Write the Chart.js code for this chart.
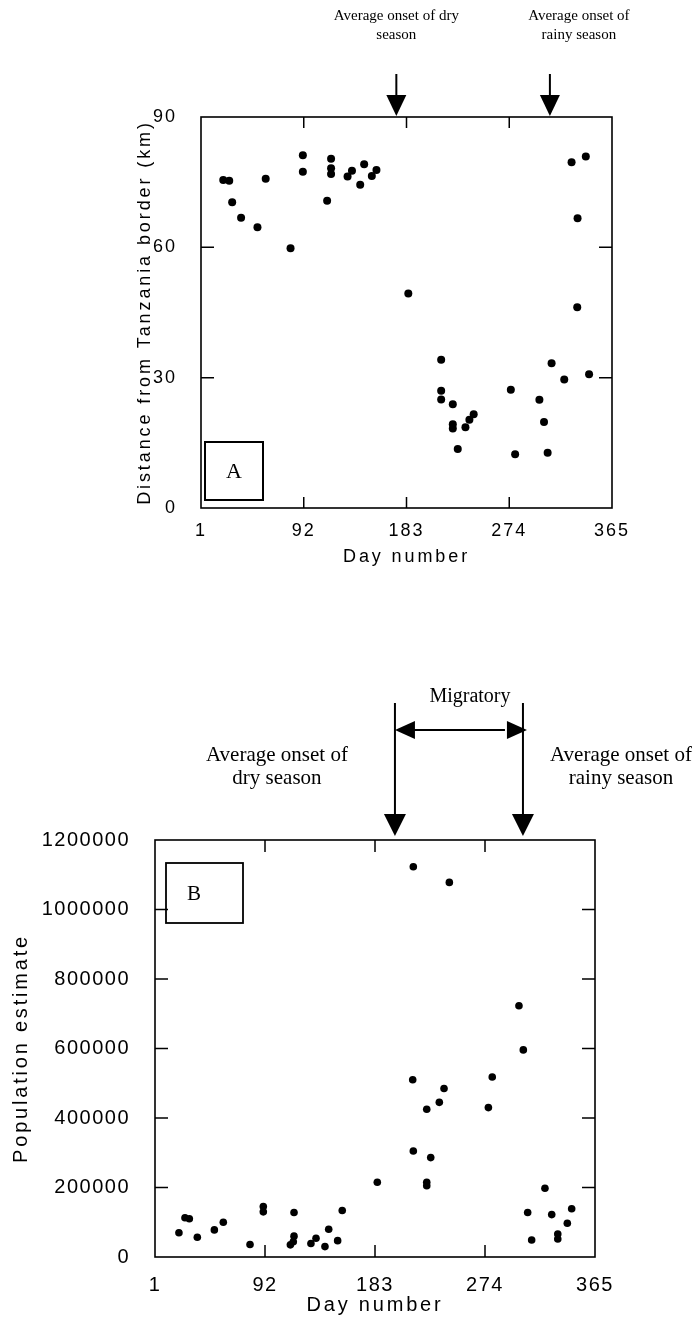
<!DOCTYPE html>
<html>
<head>
<meta charset="utf-8">
<script src="https://cdn.jsdelivr.net/npm/chart.js@4.4.1/dist/chart.umd.min.js"></script>
<style>
  html, body { margin: 0; padding: 0; background: #fff; }
  body { width: 696px; height: 1323px; position: relative; overflow: hidden; }
  .wrap { position: absolute; left: 0; width: 696px; }
</style>
</head>
<body>
<div class="wrap" style="top:0;height:600px"><canvas id="chartA"></canvas></div>
<div class="wrap" style="top:600px;height:723px"><canvas id="chartB"></canvas></div>
<script>
// ---------- data ----------
const dayTicks = [1, 92, 183, 274, 365];
const distanceTicks = [0, 30, 60, 90];
const populationTicks = [0, 200000, 400000, 600000, 800000, 1000000, 1200000];

const distanceDays = [20.7, 26, 28.6, 36.5, 51, 58.3, 80.3, 91.2, 91.2, 112.7, 116.2, 116.2, 116.2,
  130.8, 134.7, 142, 145.5, 152.3, 156.4, 184.6, 213.7, 213.7, 213.7, 224, 224, 224, 228.4, 235.2,
  238.7, 242.5, 275.4, 279.2, 300.7, 304.8, 308, 311.5, 322.7, 329.2, 334.5, 334.2, 341.8, 344.7];
const distanceKm = [75.5, 75.3, 70.4, 66.8, 64.6, 75.8, 59.8, 81.2, 77.4, 70.7, 80.4, 78.2, 76.9,
  76.3, 77.6, 74.4, 79.1, 76.4, 77.8, 49.4, 34.1, 27.0, 25.0, 23.9, 19.3, 18.3, 13.6, 18.6,
  20.3, 21.6, 27.2, 12.4, 24.9, 19.8, 12.7, 33.3, 29.6, 79.6, 66.7, 46.2, 80.9, 30.8];

const populationDays = [20.8, 25.8, 29.4, 36, 50.1, 57.5, 79.6, 90.6, 90.6, 116, 116, 113, 115.4,
  130, 134.2, 141.6, 144.7, 152.1, 155.9, 184.9, 214.7, 214.2, 214.7, 225.8, 225.8, 225.8, 229.1,
  236.2, 240.1, 244.5, 276.8, 280, 302.1, 305.7, 309.3, 312.6, 323.6, 329.2, 334.2, 334.2, 342.1, 345.7];
const populationCounts = [70000, 113000, 110000, 57000, 78000, 100000, 36000, 145000, 130000, 128000,
  60000, 35000, 44000, 39000, 54000, 30000, 80000, 47000, 134000, 215000, 1123000, 510000, 305000,
  425000, 215000, 205000, 286000, 445000, 485000, 1078000, 430000, 518000, 723000, 596000, 128000,
  49000, 198000, 122000, 66000, 52000, 97000, 139000];

const onsetDaysA = [174, 310];
const onsetDaysB = [199.5, 305.4];
const onsetLabelsA = [['Average onset of dry', 'season'], ['Average onset of', 'rainy season']];
const onsetLabelsB = [['Average onset of', 'dry season'], ['Average onset of', 'rainy season']];
const migratoryLabel = 'Migratory';
const panelLetters = ['A', 'B'];

// ---------- drawing helpers ----------
const SANS = '"Liberation Sans", Arial, Helvetica, sans-serif';
const SERIF = '"Liberation Serif", "Times New Roman", Times, serif';

function downArrow(ctx, x, yTop, yTip, headW, headH, lw) {
  ctx.lineWidth = lw;
  ctx.beginPath();
  ctx.moveTo(x, yTop);
  ctx.lineTo(x, yTip - headH + 2);
  ctx.stroke();
  ctx.beginPath();
  ctx.moveTo(x - headW / 2, yTip - headH);
  ctx.lineTo(x + headW / 2, yTip - headH);
  ctx.lineTo(x, yTip);
  ctx.closePath();
  ctx.fill();
}

function annotatePlugin(cfg) {
  return {
    id: 'annot',
    beforeDraw(chart) { chart.ctx.letterSpacing = cfg.titleSpacing; },
    beforeDatasetsDraw(chart) { chart.ctx.letterSpacing = cfg.tickSpacing; },
    afterDraw(chart) {
      const ctx = chart.ctx, a = chart.chartArea;
      const xs = chart.scales.x, ys = chart.scales.y;
      ctx.save();
      ctx.letterSpacing = '0px';
      ctx.strokeStyle = '#000';
      ctx.fillStyle = '#000';
      ctx.lineCap = 'butt';
      // frame
      ctx.lineWidth = cfg.frameWidth;
      ctx.strokeRect(a.left, a.top, a.right - a.left, a.bottom - a.top);
      // inward tick marks on all four sides
      ctx.lineWidth = 1.5;
      xs.ticks.forEach(t => {
        if (t.value <= xs.min || t.value >= xs.max) return;
        const px = xs.getPixelForValue(t.value);
        ctx.beginPath();
        ctx.moveTo(px, a.bottom); ctx.lineTo(px, a.bottom - cfg.tickLenX);
        ctx.moveTo(px, a.top); ctx.lineTo(px, a.top + cfg.tickLenX);
        ctx.stroke();
      });
      ys.ticks.forEach(t => {
        if (t.value <= ys.min || t.value >= ys.max) return;
        const py = ys.getPixelForValue(t.value);
        ctx.beginPath();
        ctx.moveTo(a.left, py); ctx.lineTo(a.left + cfg.tickLenY, py);
        ctx.moveTo(a.right, py); ctx.lineTo(a.right - cfg.tickLenY, py);
        ctx.stroke();
      });
      // onset arrows and their labels
      const ax = cfg.onsetDays.map(d => xs.getPixelForValue(d));
      ax.forEach(x => downArrow(ctx, x, a.top + cfg.arrowTop, a.top + cfg.arrowTip,
        cfg.headW, cfg.headH, cfg.shaftW));
      ctx.font = cfg.labelFont;
      ctx.textAlign = 'center';
      ctx.textBaseline = 'middle';
      cfg.labels.forEach((lines, i) => {
        lines.forEach((ln, j) => ctx.fillText(ln, ax[i] + cfg.labelDx[i], a.top + cfg.labelY[j]));
      });
      // migratory double arrow
      if (cfg.migratory) {
        const m = cfg.migratory;
        const y = a.top + m.y;
        ctx.lineWidth = 2;
        ctx.beginPath();
        ctx.moveTo(ax[0] + m.headL - 2, y); ctx.lineTo(ax[1] - m.headL + 2, y);
        ctx.stroke();
        ctx.beginPath();
        ctx.moveTo(ax[0], y); ctx.lineTo(ax[0] + m.headL, y - m.headH / 2); ctx.lineTo(ax[0] + m.headL, y + m.headH / 2);
        ctx.closePath(); ctx.fill();
        ctx.beginPath();
        ctx.moveTo(ax[1] + m.tipOver, y); ctx.lineTo(ax[1] + m.tipOver - m.headL, y - m.headH / 2);
        ctx.lineTo(ax[1] + m.tipOver - m.headL, y + m.headH / 2);
        ctx.closePath(); ctx.fill();
        ctx.font = m.font;
        ctx.fillText(m.text, (ax[0] + ax[1]) / 2 + m.textDx, a.top + m.textY);
      }
      // panel letter box
      const b = cfg.box;
      ctx.lineWidth = b.lw;
      const bx = a.left + b.dx, by = b.fromBottom ? a.bottom - b.dy - b.h : a.top + b.dy;
      ctx.strokeRect(bx, by, b.w, b.h);
      ctx.font = b.font;
      ctx.fillText(b.letter, bx + b.letterX, by + b.h / 2 + 1);
      ctx.restore();
    }
  };
}

function axisFont(size) { return { family: SANS, size: size, weight: 'normal' }; }

function makeChart(id, opt) {
  return new Chart(document.getElementById(id), {
    type: 'scatter',
    data: {
      datasets: [{
        data: opt.xs.map((d, i) => ({ x: d, y: opt.ys[i] })),
        backgroundColor: '#000',
        borderColor: '#000',
        borderWidth: 0,
        pointRadius: opt.dot,
        pointHoverRadius: opt.dot
      }]
    },
    options: {
      responsive: true,
      maintainAspectRatio: false,
      animation: false,
      events: [],
      layout: { padding: opt.padding },
      plugins: { legend: { display: false }, tooltip: { enabled: false } },
      scales: {
        x: {
          type: 'linear', min: 1, max: 365,
          afterBuildTicks: s => { s.ticks = dayTicks.map(v => ({ value: v })); },
          afterFit: s => { s.height = opt.xHeight; s.paddingLeft = 0; s.paddingRight = 0; },
          grid: { display: false },
          border: { display: false },
          ticks: { z: 1, color: '#000', padding: opt.xTickPad, maxRotation: 0, autoSkip: false,
                   font: axisFont(opt.fontSize), callback: v => String(v) },
          title: { display: true, text: 'Day number', color: '#000', font: axisFont(opt.fontSize),
                   padding: { top: 0, bottom: opt.xTitlePad } }
        },
        y: {
          type: 'linear', min: opt.yMin, max: opt.yMax,
          afterBuildTicks: s => { s.ticks = opt.yTicks.map(v => ({ value: v })); },
          afterFit: s => { s.width = opt.yWidth; s.paddingTop = 0; s.paddingBottom = 0; },
          grid: { display: false },
          border: { display: false },
          ticks: { z: 1, color: '#000', padding: opt.yTickPad, autoSkip: false,
                   font: axisFont(opt.fontSize), callback: v => String(v) },
          title: { display: true, text: opt.yTitle, color: '#000', font: axisFont(opt.fontSize),
                   padding: { top: opt.yTitlePad, bottom: 0 } }
        }
      }
    },
    plugins: [annotatePlugin(opt.annot)]
  });
}

makeChart('chartA', {
  xs: distanceDays, ys: distanceKm, dot: 4,
  yMin: 0, yMax: 90, yTicks: distanceTicks,
  yTitle: 'Distance from Tanzania border (km)',
  padding: { left: 0, top: 117, right: 84, bottom: 0 },
  xHeight: 92, yWidth: 201, fontSize: 18,
  xTickPad: 4, xTitlePad: 32, yTickPad: 16, yTitlePad: 134,
  annot: {
    titleSpacing: '2.9px', tickSpacing: '2px',
    frameWidth: 1.6, tickLenX: 11, tickLenY: 13,
    onsetDays: onsetDaysA, arrowTop: -43, arrowTip: -1, headW: 20, headH: 21, shaftW: 2,
    labels: onsetLabelsA, labelDx: [0, 29], labelY: [-101, -82],
    labelFont: '15px ' + SERIF,
    box: { letter: panelLetters[0], dx: 4, dy: 8, fromBottom: true, w: 58, h: 58, lw: 2,
           letterX: 29, font: '22px ' + SERIF }
  }
});

makeChart('chartB', {
  xs: populationDays, ys: populationCounts, dot: 3.8,
  yMin: 0, yMax: 1200000, yTicks: populationTicks,
  yTitle: 'Population estimate',
  padding: { left: 0, top: 240, right: 101, bottom: 0 },
  xHeight: 66, yWidth: 155, fontSize: 20,
  xTickPad: 8, xTitlePad: 6, yTickPad: 17, yTitlePad: 9,
  annot: {
    titleSpacing: '2.8px', tickSpacing: '1.5px',
    frameWidth: 1.6, tickLenX: 12, tickLenY: 13,
    onsetDays: onsetDaysB, arrowTop: -137, arrowTip: -4, headW: 22, headH: 22, shaftW: 2,
    labels: onsetLabelsB, labelDx: [-118, 98], labelY: [-85, -62],
    labelFont: '21px ' + SERIF,
    migratory: { text: migratoryLabel, y: -110, headL: 20, headH: 18, tipOver: 4,
                 textDx: 11, textY: -143, font: '20px ' + SERIF },
    box: { letter: panelLetters[1], dx: 11, dy: 23, fromBottom: false, w: 77, h: 60, lw: 1.8,
           letterX: 28, font: '21px ' + SERIF }
  }
});
</script>
</body>
</html>
